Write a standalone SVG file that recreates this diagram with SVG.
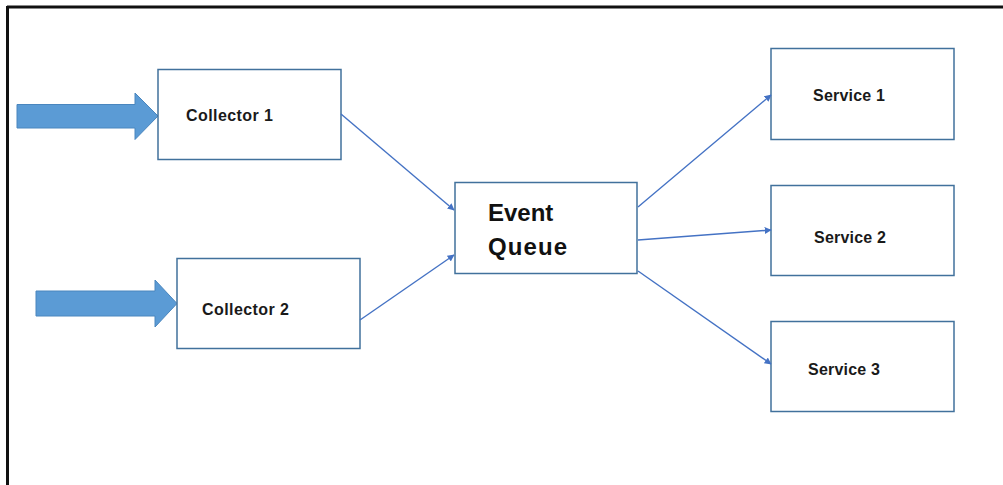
<svg xmlns="http://www.w3.org/2000/svg" width="1003" height="485" viewBox="0 0 1003 485">
<style>
.box{fill:#fff;stroke:#41719C;stroke-width:1.5}
.lbl{font-family:"Liberation Sans",Arial,sans-serif;font-weight:bold;font-size:16px;fill:#1a1a1a}
.big{font-family:"Liberation Sans",Arial,sans-serif;font-weight:bold;font-size:24px;fill:#111}
.conn{stroke:#4472C4;stroke-width:1.4;fill:none;marker-end:url(#ah)}
.blk{fill:#5B9BD5;stroke:#4A86BE;stroke-width:1}
</style>
<defs>
<marker id="ah" viewBox="0 0 10 10" refX="9" refY="5" markerWidth="7" markerHeight="7" markerUnits="userSpaceOnUse" orient="auto">
<path d="M0,0 L10,5 L0,10 z" fill="#4472C4"/>
</marker>
</defs>
<rect width="1003" height="485" fill="#fff"/>
<g id="frame">
<line x1="7" y1="7" x2="1003" y2="7" stroke="#111" stroke-width="3"/>
<line x1="7.5" y1="6" x2="7.5" y2="485" stroke="#111" stroke-width="3"/>
</g>
<g id="input1">
<path class="blk" d="M17,104.5 H135 V93 L158,116 L135,139.5 V128 H17 z"/>
</g>
<g id="input2">
<path class="blk" d="M36,291 H155 V280 L177,303.5 L155,327 V316 H36 z"/>
</g>
<g id="collector1">
<rect class="box" x="158" y="69.5" width="183" height="90"/>
<text class="lbl" x="186" y="121" textLength="87">Collector 1</text>
</g>
<g id="collector2">
<rect class="box" x="177" y="258.5" width="183" height="90"/>
<text class="lbl" x="202" y="315" textLength="87">Collector 2</text>
</g>
<g id="eventqueue">
<rect class="box" x="455" y="182.5" width="182" height="91"/>
<text class="big" x="488" y="221">Event</text>
<text class="big" x="488" y="255" textLength="79">Queue</text>
</g>
<g id="service1">
<rect class="box" x="771" y="48.5" width="183" height="91"/>
<text class="lbl" x="813" y="101" textLength="72">Service 1</text>
</g>
<g id="service2">
<rect class="box" x="771" y="185.5" width="183" height="90"/>
<text class="lbl" x="814" y="243" textLength="72">Service 2</text>
</g>
<g id="service3">
<rect class="box" x="771" y="321.5" width="183" height="90"/>
<text class="lbl" x="808" y="375" textLength="72">Service 3</text>
</g>
<g id="connectors">
<line class="conn" x1="341" y1="114" x2="454" y2="210"/>
<line class="conn" x1="360" y1="320" x2="454" y2="255"/>
<line class="conn" x1="638" y1="207" x2="771" y2="95"/>
<line class="conn" x1="638" y1="240" x2="771" y2="230"/>
<line class="conn" x1="638" y1="271" x2="771" y2="364"/>
</g>
</svg>
